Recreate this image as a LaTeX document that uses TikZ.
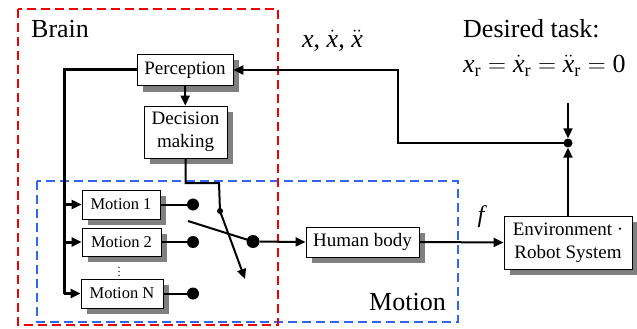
\documentclass[tikz,border=0pt]{standalone}
\usepackage{amsmath}
\usepackage{fontspec}
\setmainfont{Liberation Serif}
\usetikzlibrary{arrows.meta,shadows}
\definecolor{brainred}{RGB}{240,0,0}
\definecolor{motionblue}{RGB}{50,100,240}
\definecolor{shade}{RGB}{128,128,128}
\begin{document}
\begin{tikzpicture}[x=1pt,y=-1pt,
  blk/.style={draw,fill=white,line width=0.9pt,inner sep=0pt,align=center,
    drop shadow={shadow xshift=6pt,shadow yshift=-6pt,fill=shade,opacity=1}},
  bigtxt/.style={font=\fontsize{19}{23}\selectfont},
  smalltxt/.style={font=\fontsize{16.5}{18}\selectfont},
  label/.style={font=\fontsize{26}{28}\selectfont,inner sep=0pt},
  wire/.style={line width=2pt},
  bus/.style={line width=3pt},
  feed/.style={line width=2.5pt},
  tip/.style={-{Triangle[length=10pt,width=9pt]}},
  pin/.style={fill,circle,inner sep=0pt,minimum size=12pt},
  region/.style={line width=2.3pt,dash pattern=on 9pt off 5pt},
]
\useasboundingbox (0,0) rectangle (637,329);

% dashed regions
\draw[region,motionblue] (37,181) rectangle (458,322);
\draw[region,brainred] (18,9) rectangle (278,325);
\node[label,anchor=base west] (brainlbl) at (31,38) {Brain};
\node[label,anchor=base west] (motionlbl) at (369,310) {Motion};

% blocks
\node[blk,bigtxt,minimum width=96pt,minimum height=31pt] (perc) at (185,70) {Perception};
\node[blk,bigtxt,minimum width=83pt,minimum height=52pt] (dec) at (185.5,132) {Decision\\making};
\node[blk,smalltxt,minimum width=78pt,minimum height=29pt] (m1) at (121,204.5) {Motion 1};
\node[blk,smalltxt,minimum width=79pt,minimum height=28pt] (m2) at (121.5,242) {Motion 2};
\node[blk,smalltxt,minimum width=82pt,minimum height=29pt] (mN) at (122,293.5) {Motion N};
\node[font=\fontsize{12}{13}\selectfont,inner sep=0pt] (vdots) at (119,269) {$\vdots$};
\node[blk,bigtxt,minimum width=113pt,minimum height=30pt] (hum) at (362.5,242) {Human body};
\node[blk,bigtxt,minimum width=128pt,minimum height=53pt] (env) at (568,242.5) {Environment ·\\Robot System};

% perception to decision
\draw[wire,tip] (perc) -- (dec);

% bus from perception to the motion primitives
\coordinate (busbot) at (64,293.5);
\draw[bus] (perc.west) -| (busbot);
\draw[bus,tip] (busbot |- m1.west) -- (m1.west);
\draw[bus,tip] (busbot |- m2.west) -- (m2.west);
\draw[bus,tip] (busbot) -- (mN.west);

% switch contacts
\node[pin] (d1) at (193,204.5) {};
\node[pin] (d2) at (193,242) {};
\node[pin] (dN) at (193,293.5) {};
\draw[wire] (m1.east) -- (d1);
\draw[wire] (m2.east) -- (d2);
\draw[wire] (mN.east) -- (dN);
\node[pin,minimum size=13pt] (sw) at (253,241.5) {};
\coordinate (blade) at (188,221);
\draw[wire] (sw.center) -- (blade);

% selector driven by decision making
\coordinate (kink) at (219,183);
\node[pin,minimum size=6pt] (hinge) at (220,211) {};
\coordinate (armtip) at (245,279);
\draw[wire] (dec.south) |- (kink) -- (hinge.center);
\draw[wire,tip] (hinge.center) -- (armtip);

% forward path
\draw[wire,tip] (sw) -- (hum.west);
\draw[wire,tip] (hum.east) -- (env.west);
\node[font=\fontsize{24}{26}\selectfont\itshape,inner sep=0pt] (flbl) at (481,217) {f};

% comparison with the desired task
\node[pin,minimum size=9pt] (junc) at (568,143) {};
\coordinate (goal) at (568,103);
\draw[wire,tip] (goal) -- (junc);
\draw[wire,tip] (env.north) -- (junc);
\coordinate (fbcorner) at (398,70);
\draw[feed,tip] (junc.center) -| (fbcorner) -- (perc.east);

% labels
\node[label,anchor=base west] (statelbl) at (302,48)
  {$\textit{x}$, $\dot{\textit{x}}$, $\ddot{\textit{x}}$};
\node[label,anchor=base west] (tasklbl) at (463,38) {Desired task:};
\node[label,anchor=base west] (eqlbl) at (463,73)
  {$\textit{x}_{\text{r}} = \dot{\textit{x}}_{\text{r}} = \ddot{\textit{x}}_{\text{r}} = \text{0}$};
\end{tikzpicture}
\end{document}
